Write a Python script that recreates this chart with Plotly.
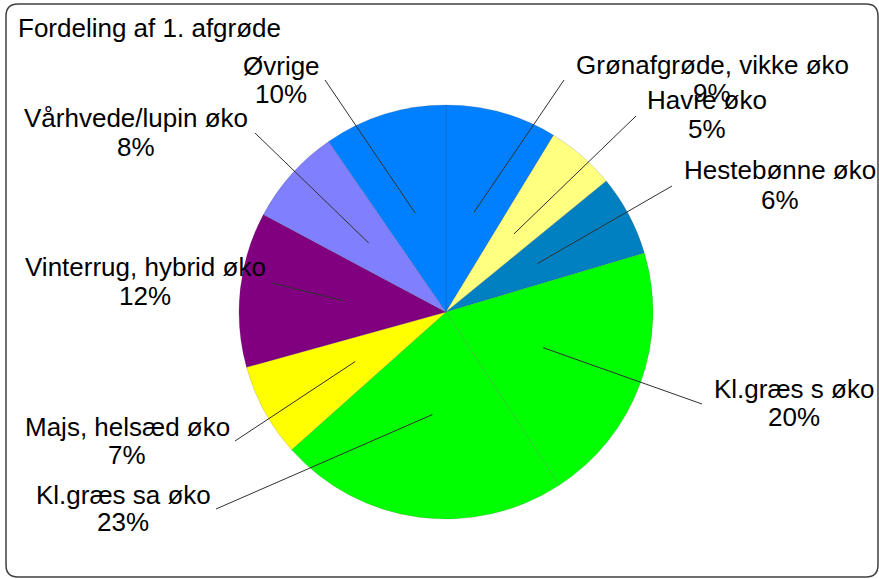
import math
import plotly.graph_objects as go

# ---- data ----
categories = ["Grønafgrøde, vikke øko", "Havre øko", "Hestebønne øko", "Kl.græs s øko",
              "Kl.græs sa øko", "Majs, helsæd øko", "Vinterrug, hybrid øko",
              "Vårhvede/lupin øko", "Øvrige"]
values = [8.7, 5.4, 6.3, 20.4, 22.6, 7.3, 12.1, 7.6, 9.6]
colors = ["#0080ff", "#ffff80", "#0080c0", "#00ff00", "#00ff00", "#ffff00",
          "#800080", "#8080ff", "#0080ff"]
title_text = "Fordeling af 1. afgrøde"

# ---- layout constants (pixels) ----
W, H = 879, 579
CX, CY, R = 446, 312, 207
FONT = "Liberation Sans, Arial, sans-serif"
FS = 26

# label placement: (label center x, name y, pct y, leader outer end x, y)
label_place = {
    "Grønafgrøde, vikke øko": (712, 65, 93, 564, 80),
    "Havre øko": (707, 100, 129, 636, 116),
    "Hestebønne øko": (780, 170, 200, 672, 186),
    "Kl.græs s øko": (794, 389, 417, 702, 404),
    "Kl.græs sa øko": (123, 495, 522, 216, 509),
    "Majs, helsæd øko": (127, 427, 455, 235, 441),
    "Vinterrug, hybrid øko": (145, 267, 296, 272, 283),
    "Vårhvede/lupin øko": (136, 118, 147, 255, 133),
    "Øvrige": (281, 66, 94, 325, 80),
}

def px(x):
    return x / W

def py(y):
    return 1 - y / H

fig = go.Figure()
fig.add_trace(go.Pie(
    labels=categories,
    values=values,
    sort=False,
    direction="clockwise",
    rotation=0,
    textinfo="none",
    hoverinfo="label+percent",
    marker=dict(colors=colors, line=dict(color="rgba(60,60,60,0.3)", width=0.6)),
    domain=dict(x=[px(CX - R), px(CX + R)], y=[py(CY + R), py(CY - R)]),
    showlegend=False,
))

total = sum(values)
cum = 0
shapes = []
annotations = []
for cat, v in zip(categories, values):
    mid = (cum + v / 2) / total
    cum += v
    th = 2 * math.pi * mid
    ix = CX + 0.5 * R * math.sin(th)
    iy = CY - 0.5 * R * math.cos(th)
    lx, ny, pyy, ox, oy = label_place[cat]
    shapes.append(dict(type="line", xref="paper", yref="paper",
                       x0=px(ix), y0=py(iy), x1=px(ox), y1=py(oy),
                       line=dict(color="#303030", width=1)))
    pct = int(100 * v / total + 0.5)
    for txt, yy in ((cat, ny), (f"{pct}%", pyy)):
        annotations.append(dict(
            text=txt, xref="paper", yref="paper",
            x=px(lx), y=py(yy), xanchor="center", yanchor="middle",
            showarrow=False, borderpad=0,
            font=dict(family=FONT, size=FS, color="#000000")))

annotations.append(dict(
    text=title_text, xref="paper", yref="paper", x=px(17), y=py(28),
    xanchor="left", yanchor="middle", showarrow=False, borderpad=0,
    font=dict(family=FONT, size=FS, color="#000000")))

# rounded border
x0, y0, x1, y1, rr = 6, 4, 878, 577, 12
path = (f"M {px(x0+rr)},{py(y0)} L {px(x1-rr)},{py(y0)} "
        f"Q {px(x1)},{py(y0)} {px(x1)},{py(y0+rr)} "
        f"L {px(x1)},{py(y1-rr)} Q {px(x1)},{py(y1)} {px(x1-rr)},{py(y1)} "
        f"L {px(x0+rr)},{py(y1)} Q {px(x0)},{py(y1)} {px(x0)},{py(y1-rr)} "
        f"L {px(x0)},{py(y0+rr)} Q {px(x0)},{py(y0)} {px(x0+rr)},{py(y0)} Z")
shapes.append(dict(type="path", xref="paper", yref="paper", path=path,
                   line=dict(color="#404040", width=1.5)))

fig.update_layout(
    width=W, height=H,
    margin=dict(l=0, r=0, t=0, b=0),
    paper_bgcolor="white", plot_bgcolor="white",
    shapes=shapes, annotations=annotations,
)
fig.write_html("out.html", config={"displayModeBar": False},
               post_script="document.body.style.margin='0';")
